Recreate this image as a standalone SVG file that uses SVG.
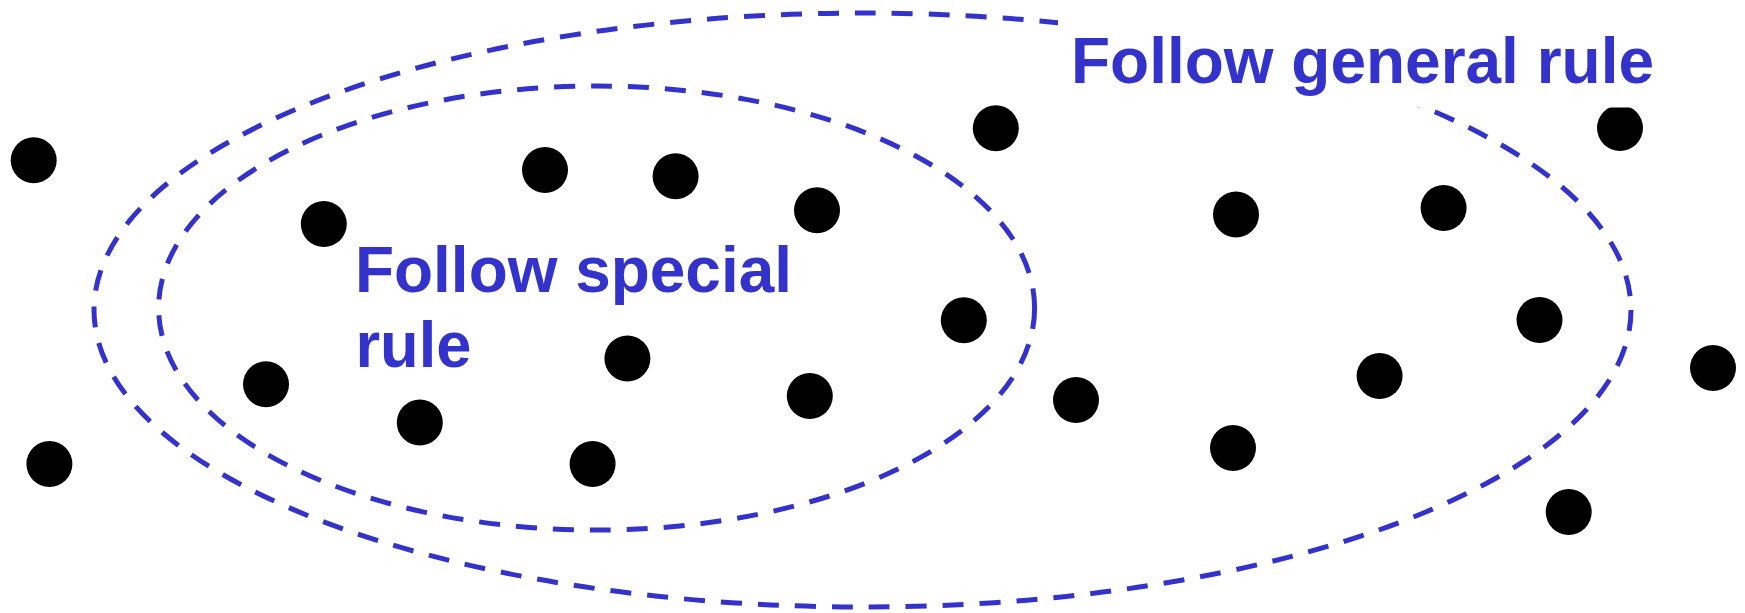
<svg xmlns="http://www.w3.org/2000/svg" width="1745" height="613" viewBox="0 0 1745 613">
<style>
.ring{fill:none;stroke:#3333cc;stroke-width:5;stroke-dasharray:21 16}
.dot{fill:#000}
.lbl{font-family:"Liberation Sans",Arial,sans-serif;font-weight:bold;font-size:65px;fill:#3333cc}
</style>
<rect width="1745" height="613" fill="#fff"/>
<g id="connectors">
<ellipse class="ring" cx="862.5" cy="310" rx="768.5" ry="297"/>
<ellipse class="ring" cx="596.6" cy="308" rx="438" ry="222"/>
</g>
<g id="nodes">
<circle id="n1" class="dot" cx="33.7" cy="160.3" r="23"/>
<circle id="n2" class="dot" cx="49.4" cy="464" r="23"/>
<circle id="n3" class="dot" cx="323.8" cy="224" r="23"/>
<circle id="n4" class="dot" cx="545" cy="170" r="23"/>
<circle id="n5" class="dot" cx="675.6" cy="176.3" r="23"/>
<circle id="n6" class="dot" cx="817" cy="210.3" r="23"/>
<circle id="n7" class="dot" cx="963.8" cy="320.2" r="23"/>
<circle id="n8" class="dot" cx="266" cy="384.3" r="23"/>
<circle id="n9" class="dot" cx="419.8" cy="422.6" r="23"/>
<circle id="n10" class="dot" cx="627.4" cy="358.5" r="23"/>
<circle id="n11" class="dot" cx="592.6" cy="464" r="23"/>
<circle id="n12" class="dot" cx="809.8" cy="396" r="23"/>
<circle id="n13" class="dot" cx="995.8" cy="128.2" r="23"/>
<circle id="n14" class="dot" cx="1076" cy="400" r="23"/>
<circle id="n15" class="dot" cx="1236" cy="214.6" r="23"/>
<circle id="n16" class="dot" cx="1233" cy="448" r="23"/>
<circle id="n17" class="dot" cx="1443.6" cy="208" r="23"/>
<circle id="n18" class="dot" cx="1379.6" cy="376" r="23"/>
<circle id="n19" class="dot" cx="1539.5" cy="320" r="23"/>
<circle id="n20" class="dot" cx="1620" cy="128" r="23"/>
<circle id="n21" class="dot" cx="1713" cy="368" r="23"/>
<circle id="n22" class="dot" cx="1568.7" cy="512" r="23"/>
</g>
<g id="label-special">
<text class="lbl" x="355" y="291.5" textLength="437" lengthAdjust="spacingAndGlyphs">Follow special</text>
<text class="lbl" x="355.5" y="366.7" textLength="116" lengthAdjust="spacingAndGlyphs">rule</text>
</g>
<g id="label-general">
<rect x="1058" y="20" width="602" height="87.5" fill="#fff"/>
<text class="lbl" x="1071" y="83" textLength="583" lengthAdjust="spacingAndGlyphs">Follow general rule</text>
</g>
</svg>
